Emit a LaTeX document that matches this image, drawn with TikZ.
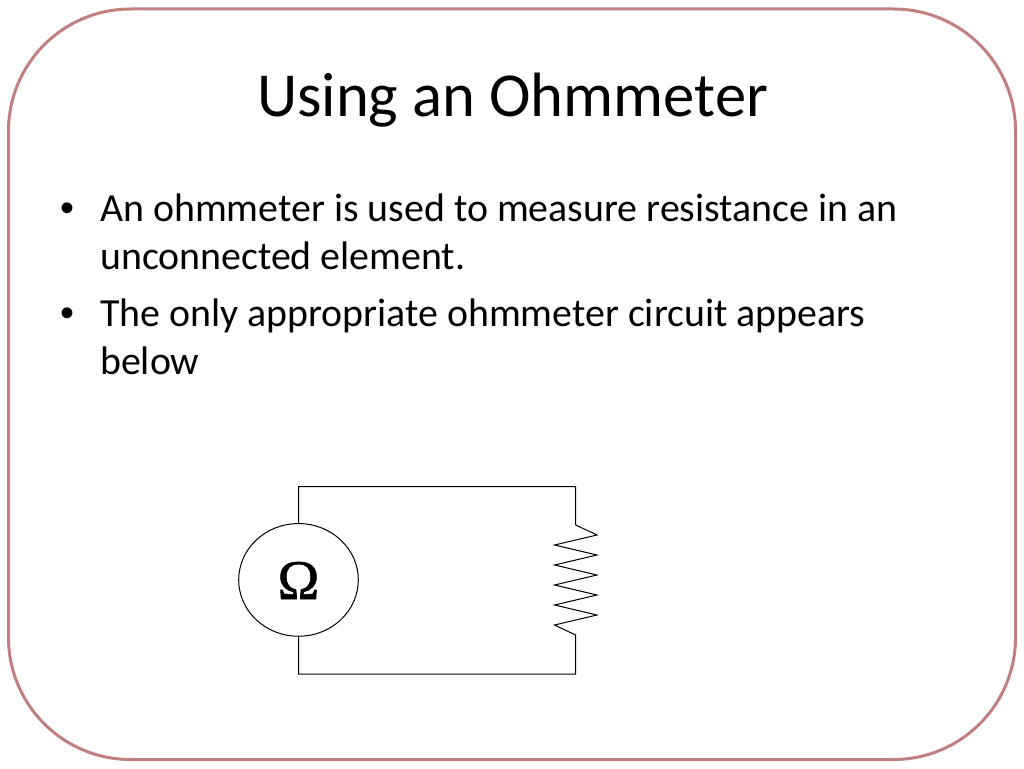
\documentclass[tikz,border=0pt]{standalone}
\usepackage{fontspec}
\usetikzlibrary{shapes.geometric}
\setmainfont{Carlito}
\newfontfamily\omegafont[FakeBold=1.2]{Liberation Serif}
\newfontfamily\bulletfont{Liberation Sans}
\tikzset{
  wire/.style={draw=black,line width=1pt,line join=miter},
  bodytext/.style={anchor=base west,inner sep=0pt,font=\fontsize{39.85pt}{48pt}\selectfont},
  bullettext/.style={anchor=base west,inner sep=0pt,font=\bulletfont\fontsize{39.85pt}{48pt}\selectfont},
}
\begin{document}
\begin{tikzpicture}[x=1pt,y=-1pt]
\useasboundingbox (0,0) rectangle (1024,768);
\fill[white] (0,0) rectangle (1024,768);
\draw[draw={rgb,255:red,192;green,128;blue,128},line width=3pt,rounded corners=122pt] (8.5,9) rectangle (1015.5,759.5);
\node[anchor=base,inner sep=0pt,font=\fontsize{62.6pt}{72pt}\selectfont] (title) at (512.5,116) {Using an Ohmmeter};
\node[bullettext] (b1) at (60,221.5) {•};
\node[bodytext] (l1) at (100,221.5) {An ohmmeter is used to measure resistance in an};
\node[bodytext] (l2) at (100,269.5) {unconnected element.};
\node[bullettext] (b2) at (60,326.5) {•};
\node[bodytext] (l3) at (100,326.5) {The only appropriate ohmmeter circuit appears};
\node[bodytext] (l4) at (100,374) {below};
\node[draw=black,line width=1pt,ellipse,minimum width=119.6pt,minimum height=112.7pt,inner sep=0pt] (meter) at (298.5,579.9) {};
\node[anchor=base,inner sep=0pt,font=\omegafont\fontsize{56pt}{60pt}\selectfont] (om) at (298.5,599) {Ω};
\coordinate (rt) at (575.7,525);
\coordinate (rb) at (575.7,635);
\draw[wire] (meter.north) -- (298.5,486.5) -- (575.7,486.5) -- (rt) -- (597,535) -- (554.5,545) -- (597,555) -- (554.5,565) -- (597,575) -- (554.5,585) -- (597,595) -- (554.5,605) -- (597,615) -- (554.5,625) -- (rb) -- (575.7,674) -- (298.5,674) -- (meter.south);
\end{tikzpicture}
\end{document}
